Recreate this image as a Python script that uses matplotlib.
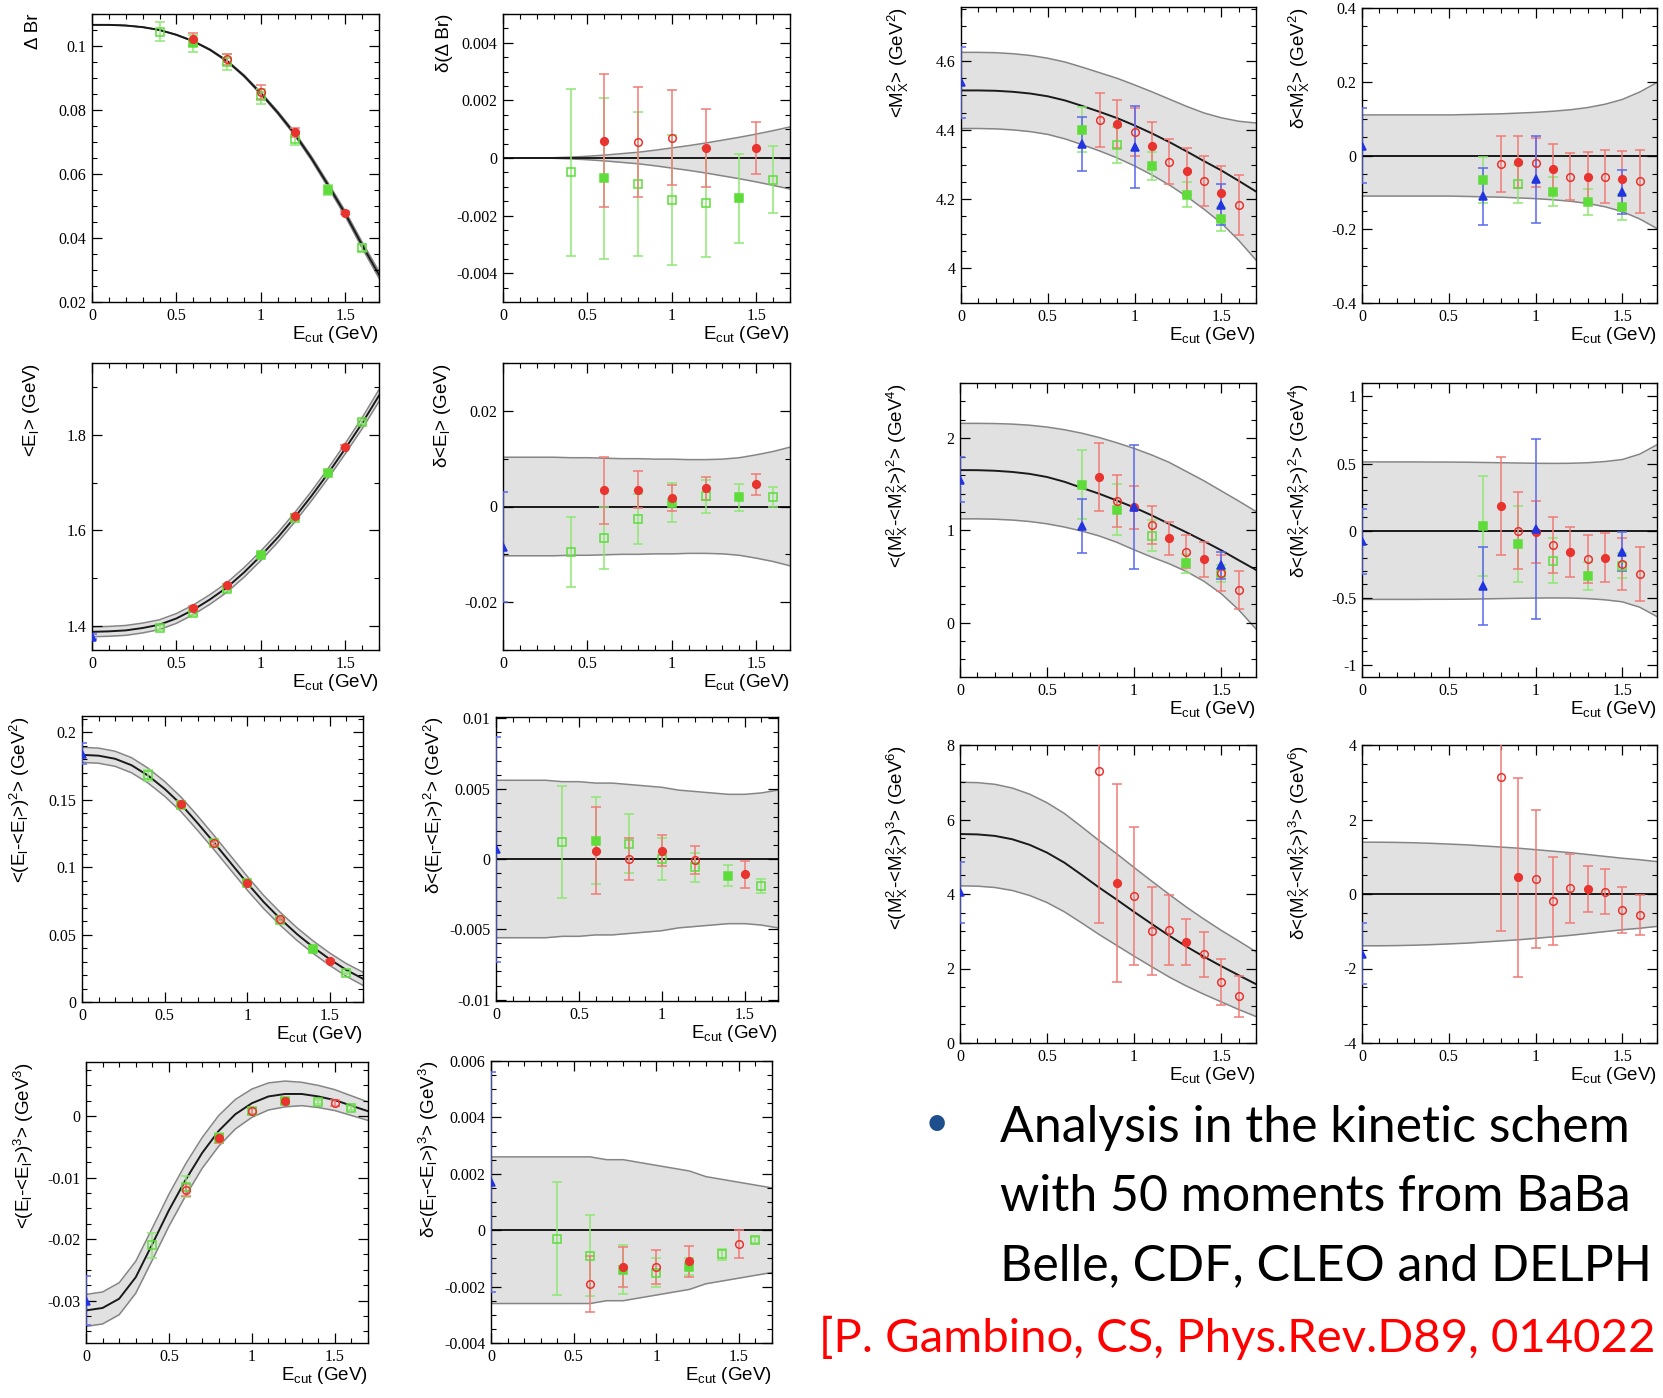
import numpy as np
import matplotlib
matplotlib.use('Agg')
import matplotlib.pyplot as plt
from matplotlib.ticker import MultipleLocator, FuncFormatter

plt.rcParams['font.family'] = 'Liberation Sans'
plt.rcParams['mathtext.fontset'] = 'custom'
plt.rcParams['mathtext.rm'] = 'Liberation Sans'
plt.rcParams['mathtext.it'] = 'Liberation Sans:italic'
plt.rcParams['mathtext.bf'] = 'Liberation Sans:bold'
plt.rcParams['mathtext.default'] = 'regular'

# E_cut grid (GeV) on which the theory curves are read
ecut = [0.0, 0.1, 0.2, 0.3, 0.4, 0.5, 0.6, 0.7, 0.8, 0.9, 1.0, 1.1, 1.2, 1.3, 1.4, 1.5, 1.6, 1.7]

# --- Delta Br ---
br_center = [0.1066, 0.1066, 0.1064, 0.1059, 0.1050, 0.1035, 0.1015, 0.0988, 0.0953, 0.0907,
             0.0852, 0.0792, 0.0726, 0.0649, 0.0564, 0.0476, 0.0378, 0.0285]
br_band = [0.0, 0.0, 0.0, 0.00001, 0.00003, 0.00006, 0.0001, 0.00015, 0.0002, 0.00027,
           0.00035, 0.00043, 0.00052, 0.00062, 0.00072, 0.00083, 0.00095, 0.00108]
br_red_full = [(0.6, 0.1021, 0.0020), (1.2, 0.0730, 0.0013), (1.5, 0.0479, 0.0004)]
br_red_open = [(0.8, 0.0958, 0.0018), (1.0, 0.0856, 0.0023)]
br_green_full = [(0.6, 0.1008, 0.0026), (1.4, 0.0550, 0.0017)]
br_green_open = [(0.4, 0.1045, 0.0030), (0.8, 0.0951, 0.0025), (1.0, 0.0843, 0.0023),
                 (1.2, 0.0709, 0.0017), (1.6, 0.0370, 0.0010)]
dbr_red_full = [(0.6, 0.0006, 0.0023), (1.2, 0.00035, 0.00135), (1.5, 0.00035, 0.0009)]
dbr_red_open = [(0.8, 0.00055, 0.0019), (1.0, 0.0007, 0.00165)]
dbr_green_full = [(0.6, -0.0007, 0.0028), (1.4, -0.0014, 0.00155)]
dbr_green_open = [(0.4, -0.0005, 0.0029), (0.8, -0.0009, 0.0025), (1.0, -0.00145, 0.00225),
                  (1.2, -0.00155, 0.0019), (1.6, -0.00075, 0.00115)]

# --- <E_l> ---
el_center = [1.388, 1.389, 1.391, 1.396, 1.403, 1.416, 1.434, 1.456, 1.481, 1.512,
             1.547, 1.585, 1.627, 1.672, 1.720, 1.771, 1.824, 1.882]
el_band = [0.0103, 0.0103, 0.0103, 0.0103, 0.0102, 0.0102, 0.0101, 0.0100, 0.0100, 0.0099,
           0.0099, 0.0098, 0.0098, 0.0099, 0.0102, 0.0108, 0.0115, 0.0124]
el_blue = [(0.0, 1.378, 0.006)]
el_red_full = [(0.6, 1.437, 0.005), (0.8, 1.485, 0.004), (1.2, 1.631, 0.004), (1.5, 1.775, 0.003)]
el_green_full = [(1.0, 1.548, 0.004), (1.4, 1.721, 0.004)]
el_green_open = [(0.4, 1.397, 0.005), (0.6, 1.428, 0.004), (0.8, 1.478, 0.004),
                 (1.2, 1.626, 0.004), (1.6, 1.826, 0.004)]
del_blue = [(0.0, -0.0085, 0.0115)]
del_red_full = [(0.6, 0.0034, 0.0070), (0.8, 0.0035, 0.0039), (1.0, 0.0018, 0.0027),
                (1.2, 0.0038, 0.0024), (1.5, 0.0046, 0.0022)]
del_green_full = [(1.0, 0.0008, 0.0041), (1.4, 0.0019, 0.0029)]
del_green_open = [(0.4, -0.0095, 0.0074), (0.6, -0.0066, 0.0064), (0.8, -0.0026, 0.0052),
                  (1.2, 0.0021, 0.0034), (1.6, 0.0019, 0.0021)]

# --- <(E_l-<E_l>)^2> ---
el2_center = [0.1832, 0.1826, 0.1803, 0.1755, 0.1678, 0.1580, 0.1464, 0.1325, 0.1180, 0.1030,
              0.0880, 0.0740, 0.0616, 0.0504, 0.0405, 0.0316, 0.0237, 0.0172]
el2_band = [0.0056, 0.0056, 0.0056, 0.0056, 0.0055, 0.0055, 0.0054, 0.0054, 0.0053, 0.0052,
            0.0051, 0.0049, 0.0048, 0.0047, 0.0046, 0.0046, 0.0047, 0.0049]
el2_blue = [(0.0, 0.184, 0.0078)]
el2_red_full = [(0.6, 0.147, 0.002), (1.0, 0.0885, 0.0012), (1.5, 0.0305, 0.0008)]
el2_red_open = [(0.8, 0.118, 0.0015), (1.2, 0.0615, 0.0010)]
el2_green_full = [(0.6, 0.146, 0.0025), (1.4, 0.0393, 0.0008)]
el2_green_open = [(0.4, 0.168, 0.004), (0.8, 0.118, 0.002), (1.0, 0.088, 0.0015),
                  (1.2, 0.061, 0.0012), (1.6, 0.0218, 0.0008)]
del2_blue = [(0.0, 0.0007, 0.0080)]
del2_red_full = [(0.6, 0.0006, 0.0031), (1.0, 0.0006, 0.0011), (1.5, -0.0011, 0.00095)]
del2_red_open = [(0.8, 0.0, 0.0015), (1.2, -0.0001, 0.0010)]
del2_green_full = [(0.6, 0.0013, 0.0031), (1.4, -0.0012, 0.00075)]
del2_green_open = [(0.4, 0.0012, 0.0040), (0.8, 0.0011, 0.0021), (1.0, 0.0, 0.0015),
                   (1.2, -0.0006, 0.00105), (1.6, -0.0019, 0.0005)]

# --- <(E_l-<E_l>)^3> ---
el3_center = [-0.0316, -0.0312, -0.0297, -0.0262, -0.0208, -0.0153, -0.0104, -0.0060, -0.0024, 0.0003,
              0.0021, 0.0032, 0.0036, 0.0036, 0.0032, 0.0026, 0.0017, 0.0008]
el3_band = [0.0026, 0.0026, 0.0026, 0.0026, 0.0026, 0.0026, 0.0026, 0.0025, 0.0025, 0.0024,
            0.0023, 0.0022, 0.0021, 0.0019, 0.0018, 0.0017, 0.0016, 0.0015]
el3_blue = [(0.0, -0.030, 0.004)]
el3_red_full = [(0.8, -0.0036, 0.0007), (1.2, 0.0025, 0.0005)]
el3_red_open = [(0.6, -0.012, 0.001), (1.0, 0.0009, 0.0005), (1.5, 0.0021, 0.0005)]
el3_green_full = [(0.8, -0.0035, 0.0008), (1.2, 0.0024, 0.0004)]
el3_green_open = [(0.4, -0.021, 0.002), (0.6, -0.0115, 0.0017), (1.0, 0.0008, 0.0006),
                  (1.4, 0.0023, 0.0003), (1.6, 0.0013, 0.0003)]
del3_blue = [(0.0, 0.0017, 0.0039)]
del3_red_full = [(0.8, -0.0013, 0.0007), (1.2, -0.0011, 0.00055)]
del3_red_open = [(0.6, -0.0019, 0.0010), (1.0, -0.0013, 0.0006), (1.5, -0.0005, 0.0005)]
del3_green_full = [(0.8, -0.0014, 0.00087), (1.2, -0.0013, 0.0003)]
del3_green_open = [(0.4, -0.0003, 0.0020), (0.6, -0.0009, 0.00145), (1.0, -0.0015, 0.0005),
                   (1.4, -0.00085, 0.0002), (1.6, -0.00035, 0.0001)]

# --- <M_X^2> ---
mx_center = [4.514, 4.514, 4.513, 4.510, 4.505, 4.497, 4.485, 4.469, 4.452, 4.434,
             4.413, 4.390, 4.365, 4.338, 4.310, 4.283, 4.253, 4.222]
mx_band = [0.110, 0.110, 0.110, 0.110, 0.110, 0.110, 0.111, 0.112, 0.113, 0.115,
           0.117, 0.120, 0.124, 0.130, 0.139, 0.152, 0.172, 0.198]
mx_blue = [(0.0, 4.537, 0.102), (0.7, 4.359, 0.079), (1.0, 4.350, 0.119), (1.5, 4.184, 0.059)]
mx_red_full = [(0.9, 4.417, 0.070), (1.1, 4.354, 0.068), (1.3, 4.280, 0.068), (1.5, 4.218, 0.078)]
mx_red_open = [(0.8, 4.429, 0.077), (1.0, 4.394, 0.070), (1.2, 4.308, 0.065),
               (1.4, 4.253, 0.072), (1.6, 4.183, 0.086)]
mx_green_full = [(0.7, 4.401, 0.064), (1.1, 4.295, 0.040), (1.3, 4.213, 0.036), (1.5, 4.142, 0.035)]
mx_green_open = [(0.9, 4.357, 0.052)]
dmx_blue = [(0.0, 0.027, 0.1015), (0.7, -0.111, 0.078), (1.0, -0.065, 0.118), (1.5, -0.099, 0.059)]
dmx_red_full = [(0.9, -0.017, 0.070), (1.1, -0.036, 0.068), (1.3, -0.058, 0.067), (1.5, -0.065, 0.078)]
dmx_red_open = [(0.8, -0.023, 0.077), (1.0, -0.019, 0.066), (1.2, -0.057, 0.065),
                (1.4, -0.057, 0.072), (1.6, -0.070, 0.086)]
dmx_green_full = [(0.7, -0.066, 0.063), (1.1, -0.098, 0.040), (1.3, -0.126, 0.035), (1.5, -0.140, 0.036)]
dmx_green_open = [(0.9, -0.078, 0.052)]

# --- <(M_X^2-<M_X^2>)^2> ---
mx2_center = [1.655, 1.654, 1.648, 1.635, 1.614, 1.580, 1.528, 1.462, 1.398, 1.325,
              1.250, 1.165, 1.072, 0.980, 0.885, 0.785, 0.678, 0.572]
mx2_upper = [2.162, 2.162, 2.160, 2.154, 2.142, 2.122, 2.093, 2.055, 2.008, 1.952,
             1.890, 1.820, 1.740, 1.640, 1.540, 1.430, 1.320, 1.206]
mx2_lower = [1.126, 1.126, 1.122, 1.113, 1.097, 1.072, 1.037, 0.993, 0.940, 0.872,
             0.790, 0.712, 0.640, 0.555, 0.450, 0.315, 0.140, -0.069]
dmx2_band = [0.512, 0.512, 0.512, 0.512, 0.511, 0.511, 0.510, 0.508, 0.506, 0.504,
             0.502, 0.501, 0.502, 0.506, 0.515, 0.530, 0.570, 0.640]
mx2_blue = [(0.0, 1.552, 0.24), (0.7, 1.047, 0.29), (1.0, 1.256, 0.67), (1.5, 0.621, 0.15)]
mx2_red_full = [(0.8, 1.581, 0.37), (1.0, 1.250, 0.23), (1.2, 0.913, 0.18), (1.4, 0.686, 0.19)]
mx2_red_open = [(0.9, 1.321, 0.28), (1.1, 1.058, 0.21), (1.3, 0.769, 0.18),
                (1.5, 0.534, 0.195), (1.6, 0.354, 0.205)]
mx2_green_full = [(0.7, 1.498, 0.37), (0.9, 1.227, 0.28), (1.3, 0.643, 0.10)]
mx2_green_open = [(1.1, 0.942, 0.17), (1.5, 0.535, 0.095)]
dmx2_blue = [(0.0, -0.08, 0.24), (0.7, -0.411, 0.29), (1.0, 0.012, 0.67), (1.5, -0.156, 0.145)]
dmx2_red_full = [(0.8, 0.183, 0.365), (1.0, -0.012, 0.23), (1.2, -0.158, 0.186), (1.4, -0.200, 0.186)]
dmx2_red_open = [(0.9, 0.0, 0.286), (1.1, -0.106, 0.21), (1.3, -0.210, 0.18),
                 (1.5, -0.250, 0.195), (1.6, -0.322, 0.204)]
dmx2_green_full = [(0.7, 0.035, 0.37), (0.9, -0.099, 0.28), (1.3, -0.337, 0.104)]
dmx2_green_open = [(1.1, -0.223, 0.167), (1.5, -0.260, 0.09)]

# --- <(M_X^2-<M_X^2>)^3> ---
mx3_center = [5.61, 5.60, 5.56, 5.47, 5.32, 5.11, 4.84, 4.51, 4.17, 3.85,
              3.52, 3.20, 2.885, 2.59, 2.32, 2.065, 1.82, 1.58]
mx3_band = [1.39, 1.39, 1.385, 1.375, 1.36, 1.34, 1.32, 1.29, 1.26, 1.23,
            1.19, 1.15, 1.11, 1.06, 1.01, 0.96, 0.92, 0.87]
mx3_blue = [(0.0, 4.05, 0.82)]
mx3_red_full = [(0.9, 4.30, 2.66), (1.3, 2.72, 0.62)]
mx3_red_open = [(0.8, 7.31, 4.10), (1.0, 3.94, 1.85), (1.1, 3.01, 1.19), (1.2, 3.03, 0.94),
                (1.4, 2.38, 0.61), (1.5, 1.64, 0.61), (1.6, 1.26, 0.55)]
dmx3_blue = [(0.0, -1.60, 0.81)]
dmx3_red_full = [(0.9, 0.45, 2.67), (1.3, 0.135, 0.62)]
dmx3_red_open = [(0.8, 3.15, 4.15), (1.0, 0.40, 1.85), (1.1, -0.18, 1.18), (1.2, 0.153, 0.93),
                 (1.4, 0.063, 0.61), (1.5, -0.42, 0.62), (1.6, -0.56, 0.54)]

# slide text (cut at the right edge in the original slide)
bullet_lines = ['Analysis in the kinetic schem', 'with 50 moments from BaBa', 'Belle, CDF, CLEO and DELPH']
reference_line = '[P. Gambino, CS, Phys.Rev.D89, 014022'

W, H = 1663, 1398
RED, RED_ERR = '#e8332f', '#f07a76'
GREEN, GREEN_ERR = '#5ddc3a', '#8ee874'
BLUE, BLUE_ERR = '#2233e0', '#5a68ee'
BAND, EDGE = '#e1e1e1', '#858585'

MARK = {
    'green_open': dict(fmt='s', color=GREEN, ecolor=GREEN_ERR, mfc='none', mec=GREEN),
    'green_full': dict(fmt='s', color=GREEN, ecolor=GREEN_ERR, mfc=GREEN, mec=GREEN),
    'red_open': dict(fmt='o', color=RED, ecolor=RED_ERR, mfc='none', mec=RED),
    'red_full': dict(fmt='o', color=RED, ecolor=RED_ERR, mfc=RED, mec=RED),
    'blue': dict(fmt='^', color=BLUE, ecolor=BLUE_ERR, mfc=BLUE, mec=BLUE),
}

fig = plt.figure(figsize=(W / 100, H / 100), dpi=100)
fig.patch.set_facecolor('white')


def tick_fmt(v, pos):
    if abs(v) < 1e-12:
        return '0'
    return '%g' % round(v, 6)


def panel(box, center, lower, upper, sets, ylim, ymaj, ymin, ylabel):
    l, t, r, b = box
    ax = fig.add_axes([l / W, 1 - b / H, (r - l) / W, (b - t) / H])
    ax.fill_between(ecut, lower, upper, color=BAND, lw=0, zorder=1)
    ax.plot(ecut, upper, color=EDGE, lw=1.1, zorder=1.2)
    ax.plot(ecut, lower, color=EDGE, lw=1.1, zorder=1.2)
    ax.plot(ecut, center, color='#1a1a1a', lw=1.4, zorder=1.4)
    for kind in ['green_open', 'green_full', 'red_open', 'red_full', 'blue']:
        pts = sets.get(kind, [])
        if not pts:
            continue
        x, y, e = zip(*pts)
        ax.errorbar(x, y, yerr=e, ms=5.5 if kind != 'blue' else 6, mew=1.1, elinewidth=1.1,
                    capsize=3.8, capthick=1.1, zorder=3, **MARK[kind])
    ax.set_xlim(0, 1.7)
    ax.set_ylim(*ylim)
    ax.xaxis.set_major_locator(MultipleLocator(0.5))
    ax.xaxis.set_minor_locator(MultipleLocator(0.1))
    ax.yaxis.set_major_locator(MultipleLocator(ymaj))
    ax.yaxis.set_minor_locator(MultipleLocator(ymin))
    ax.xaxis.set_major_formatter(FuncFormatter(tick_fmt))
    ax.yaxis.set_major_formatter(FuncFormatter(tick_fmt))
    ax.tick_params(which='both', direction='in', top=True, right=True, labelsize=11.5,
                   labelfontfamily='Liberation Serif', pad=4, colors='black')
    ax.tick_params(which='major', length=7, width=0.9)
    ax.tick_params(which='minor', length=3.5, width=0.8)
    for s in ax.spines.values():
        s.set_linewidth(1.0)
    ax.set_ylabel(ylabel, fontsize=13.5, loc='top')
    ax.yaxis.set_label_coords(-50 / (r - l), 1.0)
    ax.set_xlabel('E$_{cut}$ (GeV)', fontsize=13.5, loc='right')
    ax.xaxis.set_label_coords(1.0, -22 / (b - t))
    return ax


def sets_of(**kw):
    return kw


zero = [0.0] * len(ecut)


def plus(c, w):
    return list(np.add(c, w))


def minus(c, w):
    return list(np.subtract(c, w))


panel((92, 14, 379, 302), br_center, minus(br_center, br_band), plus(br_center, br_band),
      sets_of(red_full=br_red_full, red_open=br_red_open, green_full=br_green_full, green_open=br_green_open),
      (0.02, 0.110), 0.02, 0.005, 'Δ Br')
panel((503, 14, 790, 302), zero, minus(zero, br_band), br_band,
      sets_of(red_full=dbr_red_full, red_open=dbr_red_open, green_full=dbr_green_full, green_open=dbr_green_open),
      (-0.005, 0.005), 0.002, 0.0005, 'δ(Δ Br)')

panel((92, 363, 379, 650), el_center, minus(el_center, el_band), plus(el_center, el_band),
      sets_of(blue=el_blue, red_full=el_red_full, green_full=el_green_full, green_open=el_green_open),
      (1.35, 1.95), 0.2, 0.1, '<E$_l$> (GeV)')
panel((503, 363, 790, 650), zero, minus(zero, el_band), el_band,
      sets_of(blue=del_blue, red_full=del_red_full, green_full=del_green_full, green_open=del_green_open),
      (-0.03, 0.03), 0.02, 0.01, 'δ<E$_l$> (GeV)')

panel((82, 716, 363, 1002), el2_center, minus(el2_center, el2_band), plus(el2_center, el2_band),
      sets_of(blue=el2_blue, red_full=el2_red_full, red_open=el2_red_open,
              green_full=el2_green_full, green_open=el2_green_open),
      (0.0, 0.212), 0.05, 0.01, '<(E$_l$-<E$_l$>)$^2$> (GeV$^2$)')
panel((496, 717, 778, 1001), zero, minus(zero, el2_band), el2_band,
      sets_of(blue=del2_blue, red_full=del2_red_full, red_open=del2_red_open,
              green_full=del2_green_full, green_open=del2_green_open),
      (-0.0101, 0.0101), 0.005, 0.001, 'δ<(E$_l$-<E$_l$>)$^2$> (GeV$^2$)')

panel((86, 1062, 368, 1343), el3_center, minus(el3_center, el3_band), plus(el3_center, el3_band),
      sets_of(blue=el3_blue, red_full=el3_red_full, red_open=el3_red_open,
              green_full=el3_green_full, green_open=el3_green_open),
      (-0.0369, 0.0088), 0.01, 0.0025, '<(E$_l$-<E$_l$>)$^3$> (GeV$^3$)')
panel((491, 1061, 772, 1343), zero, minus(zero, el3_band), el3_band,
      sets_of(blue=del3_blue, red_full=del3_red_full, red_open=del3_red_open,
              green_full=del3_green_full, green_open=del3_green_open),
      (-0.004, 0.006), 0.002, 0.0005, 'δ<(E$_l$-<E$_l$>)$^3$> (GeV$^3$)')

panel((961, 7, 1256, 303), mx_center, minus(mx_center, mx_band), plus(mx_center, mx_band),
      sets_of(blue=mx_blue, red_full=mx_red_full, red_open=mx_red_open,
              green_full=mx_green_full, green_open=mx_green_open),
      (3.9, 4.755), 0.2, 0.05, '<M$_X^2$> (GeV$^2$)')
panel((1362, 8, 1657, 303), zero, minus(zero, mx_band), mx_band,
      sets_of(blue=dmx_blue, red_full=dmx_red_full, red_open=dmx_red_open,
              green_full=dmx_green_full, green_open=dmx_green_open),
      (-0.4, 0.4), 0.2, 0.05, 'δ<M$_X^2$> (GeV$^2$)')

panel((960, 383, 1256, 677), mx2_center, mx2_lower, mx2_upper,
      sets_of(blue=mx2_blue, red_full=mx2_red_full, red_open=mx2_red_open,
              green_full=mx2_green_full, green_open=mx2_green_open),
      (-0.59, 2.6), 1, 0.2, '<(M$_X^2$-<M$_X^2$>)$^2$> (GeV$^4$)')
panel((1362, 383, 1657, 677), zero, minus(zero, dmx2_band), dmx2_band,
      sets_of(blue=dmx2_blue, red_full=dmx2_red_full, red_open=dmx2_red_open,
              green_full=dmx2_green_full, green_open=dmx2_green_open),
      (-1.09, 1.1), 0.5, 0.1, 'δ<(M$_X^2$-<M$_X^2$>)$^2$> (GeV$^4$)')

panel((960, 745, 1256, 1043), mx3_center, minus(mx3_center, mx3_band), plus(mx3_center, mx3_band),
      sets_of(blue=mx3_blue, red_full=mx3_red_full, red_open=mx3_red_open),
      (0, 8), 2, 0.5, '<(M$_X^2$-<M$_X^2$>)$^3$> (GeV$^6$)')
panel((1362, 745, 1657, 1043), zero, minus(zero, mx3_band), mx3_band,
      sets_of(blue=dmx3_blue, red_full=dmx3_red_full, red_open=dmx3_red_open),
      (-4, 4), 2, 0.5, 'δ<(M$_X^2$-<M$_X^2$>)$^3$> (GeV$^6$)')

# slide text below the right-hand panels
fig.text(937 / W, 1 - 1124 / H, '•', color='#1f4e8c', fontsize=30, fontfamily='Lato',
         ha='center', va='center')
for i, line in enumerate(bullet_lines):
    fig.text(1000 / W, 1 - (1142 + 69 * i) / H, line, fontsize=36, fontfamily='Lato',
             color='black', ha='left', va='baseline')
fig.text(819 / W, 1 - 1352 / H, reference_line, fontsize=34,
         fontfamily='Lato', color='#ff0000', ha='left', va='baseline')

fig.savefig('out.png', dpi=100)
